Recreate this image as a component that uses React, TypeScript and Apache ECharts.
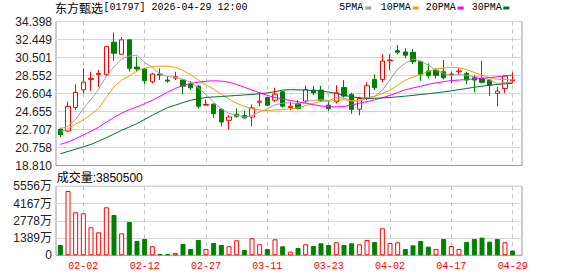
import React, { useEffect, useRef } from "react";
import * as echarts from "echarts";

// ---------- data ----------
const stockName = "东方甄选";
const stockCode = "01797";
const stampText = "2026-04-29 12:00";

const dates = [
  "01-28", "01-29", "01-30", "02-02", "02-03", "02-04", "02-05", "02-06", "02-09", "02-10",
  "02-11", "02-12", "02-13", "02-16", "02-20", "02-23", "02-24", "02-25", "02-26", "02-27",
  "03-02", "03-03", "03-04", "03-05", "03-06", "03-09", "03-10", "03-11", "03-12", "03-13",
  "03-16", "03-17", "03-18", "03-19", "03-20", "03-23", "03-24", "03-25", "03-26", "03-27",
  "03-30", "03-31", "04-01", "04-02", "04-08", "04-09", "04-10", "04-13", "04-14", "04-15",
  "04-16", "04-17", "04-20", "04-21", "04-22", "04-23", "04-24", "04-27", "04-28", "04-29",
];

const opens = [
  22.73, 22.54, 25.09, 27.0, 28.13, 28.67, 28.67, 32.16, 30.85, 32.41,
  29.47, 29.25, 27.87, 28.71, 28.06, 28.27, 28.06, 27.62, 27.4, 25.34,
  25.45, 24.9, 23.7, 24.36, 24.22, 24.06, 25.66, 26.17, 25.88, 26.78,
  25.09, 25.52, 25.77, 26.97, 26.97, 25.34, 25.7, 27.26, 26.5, 24.9,
  26.07, 28.13, 28.13, 30.16, 31.24, 31.1, 31.07, 30.05, 29.04, 29.14,
  28.96, 28.63, 28.96, 28.78, 28.31, 28.24, 28.06, 26.61, 27.15, 27.98,
];
const closes = [
  22.15, 25.2, 26.72, 27.84, 28.24, 28.78, 31.68, 30.96, 32.41, 29.33,
  29.25, 27.98, 28.71, 28.6, 27.95, 28.42, 27.4, 27.22, 25.23, 25.41,
  24.43, 23.52, 24.06, 24.14, 23.96, 25.04, 25.77, 25.34, 26.53, 25.23,
  25.23, 24.98, 27.05, 26.67, 25.88, 24.98, 26.67, 26.32, 24.87, 26.07,
  27.44, 27.22, 30.12, 30.23, 31.07, 30.74, 30.05, 28.67, 28.53, 28.57,
  28.31, 28.71, 29.04, 28.06, 28.06, 27.81, 27.51, 26.86, 28.49, 28.06,
];
const lows = [
  21.89, 22.43, 24.79, 26.61, 26.9, 27.33, 28.49, 30.16, 30.78, 28.96,
  28.96, 27.59, 27.7, 28.06, 27.76, 28.06, 26.53, 26.97, 24.98, 25.34,
  23.95, 23.05, 22.7, 24.0, 23.89, 23.05, 25.23, 25.26, 25.7, 25.09,
  24.79, 24.87, 25.59, 26.42, 25.7, 24.72, 25.52, 26.17, 24.43, 24.25,
  25.88, 26.97, 27.81, 29.14, 30.85, 30.42, 29.8, 27.98, 28.24, 28.24,
  28.13, 27.7, 28.6, 27.62, 26.72, 27.7, 26.32, 25.23, 26.67, 27.7,
];
const highs = [
  22.91, 25.7, 27.59, 29.33, 28.96, 29.14, 31.75, 33.2, 32.7, 32.48,
  30.59, 29.39, 28.85, 29.33, 28.42, 28.96, 28.13, 27.95, 27.51, 25.96,
  25.52, 24.98, 24.25, 24.98, 24.72, 25.41, 26.72, 26.24, 27.22, 26.89,
  25.7, 25.88, 27.44, 27.4, 27.44, 25.88, 27.51, 28.06, 26.67, 26.24,
  27.81, 28.68, 30.85, 30.85, 31.86, 31.5, 31.43, 30.16, 29.87, 29.33,
  30.23, 28.96, 29.33, 28.96, 28.6, 30.16, 28.13, 27.33, 28.6, 28.89,
];

const ma5 = [
  22.8, 23.05, 23.81, 24.98, 25.95, 27.1, 28.45, 29.5, 30.35, 30.65,
  30.75, 29.95, 29.45, 28.7, 28.45, 28.35, 28.15, 27.8, 27.2, 26.5,
  25.65, 24.95, 24.45, 24.25, 24.05, 24.2, 24.63, 24.95, 25.38, 25.55,
  25.6, 25.45, 25.8, 25.83, 25.93, 25.85, 26.15, 26.1, 25.8, 25.8,
  26.15, 26.3, 26.95, 28.1, 29.25, 29.88, 30.35, 30.1, 29.65, 29.15,
  28.77, 28.58, 28.65, 28.57, 28.43, 28.34, 28.08, 27.68, 27.8, 27.8,
];
const ma10 = [
  22.45, 22.8, 23.3, 23.75, 24.35, 25.0, 26.2, 27.35, 28.05, 28.5,
  29.05, 29.35, 29.52, 29.57, 29.55, 29.45, 29.1, 28.65, 28.05, 27.55,
  27.05, 26.55, 26.0, 25.55, 25.2, 24.95, 24.82, 24.72, 24.82, 24.85,
  24.95, 25.05, 25.3, 25.55, 25.75, 25.77, 25.85, 25.93, 25.8, 25.87,
  26.08, 26.3, 26.6, 26.98, 27.5, 28.05, 28.4, 28.65, 29.0, 29.25,
  29.35, 29.45, 29.38, 29.18, 28.88, 28.58, 28.33, 28.15, 28.12, 28.08,
];
const ma20 = [
  21.1, 21.34, 21.71, 22.12, 22.52, 22.95, 23.5, 24.02, 24.48, 24.85,
  25.15, 25.5, 25.88, 26.3, 26.75, 27.15, 27.48, 27.7, 27.82, 27.93,
  27.98, 27.95, 27.82, 27.58, 27.28, 26.98, 26.68, 26.4, 26.18, 26.0,
  25.85, 25.7, 25.55, 25.4, 25.25, 25.18, 25.15, 25.2, 25.35, 25.55,
  25.72, 25.92, 26.15, 26.4, 26.72, 27.0, 27.2, 27.38, 27.6, 27.75,
  27.88, 28.0, 28.06, 28.12, 28.18, 28.24, 28.32, 28.42, 28.52, 28.6,
];
const ma30 = [
  20.08, 20.33, 20.58, 20.83, 21.09, 21.45, 21.82, 22.22, 22.62, 22.98,
  23.35, 23.8, 24.25, 24.67, 25.09, 25.34, 25.62, 25.88, 26.03, 26.17,
  26.23, 26.28, 26.34, 26.39, 26.45, 26.5, 26.58, 26.67, 26.8, 26.97,
  27.02, 27.0, 26.97, 26.93, 26.89, 26.75, 26.61, 26.42, 26.24, 26.15,
  26.07, 26.08, 26.13, 26.18, 26.24, 26.32, 26.4, 26.5, 26.58, 26.67,
  26.78, 26.89, 27.02, 27.15, 27.28, 27.4, 27.5, 27.59, 27.65, 27.7,
];

const volumes = [
  8320000, 51800000, 34620000, 33820000, 22550000, 18520000, 38650000, 32480000, 17710000, 26840000,
  11540000, 13150000, 7250000, 1070000, 1070000, 1880000, 9130000, 5100000, 12350000, 5100000,
  9930000, 8320000, 7250000, 12080000, 4290000, 13690000, 8860000, 5100000, 12880000, 7250000,
  2950000, 5900000, 8860000, 7520000, 9660000, 8320000, 10470000, 8320000, 9660000, 8860000,
  12350000, 10740000, 21740000, 9930000, 10470000, 5100000, 8050000, 11540000, 6980000, 5100000,
  13150000, 7520000, 5100000, 10740000, 13150000, 14230000, 11000000, 13150000, 10470000, 3850500,
];
// 1 = red (hollow) volume bar, 0 = green (filled) volume bar
const volumeUp = [
  0, 1, 1, 1, 1, 1, 1, 0, 1, 0,
  0, 0, 1, 0, 0, 1, 0, 0, 0, 1,
  0, 0, 1, 1, 0, 1, 1, 0, 1, 0,
  1, 0, 1, 0, 0, 0, 1, 0, 0, 1,
  1, 0, 1, 1, 1, 0, 0, 0, 0, 1,
  0, 1, 1, 0, 0, 0, 0, 0, 1, 0,
];

const priceTicks = ["18.810", "20.758", "22.707", "24.655", "26.604", "28.552", "30.501", "32.449", "34.398"];
const volumeTicks = ["0", "1389万", "2778万", "4167万", "5556万"];
const markedDates = ["02-02", "02-12", "02-27", "03-11", "03-23", "04-02", "04-17", "04-29"];
const maNames = ["5PMA", "10PMA", "20PMA", "30PMA"];

const PRICE_MIN = 18.81;
const PRICE_MAX = 34.398;
const PRICE_STEP = 1.9485;
const VOL_MAX = 55560000;
const VOL_STEP = 13890000;

// ---------- styles ----------
const MONO = "'Liberation Mono', monospace";
const SANS = "'Liberation Sans', 'Noto Sans CJK SC', sans-serif";
const CJK = "'Noto Sans CJK SC', sans-serif";
const RED = "#ff0000";
const GREEN = "#008000";
const MA_COLORS = ["#a0a0a0", "#f5a100", "#ff00ff", "#006f35"];
const GRID_LINE = "#d6d6d6";
const FRAME = "#999999";
const DASH = "#c4c4c4";

// layout of the data area (category bands)
const DATA_LEFT = 56.5;
const DATA_WIDTH = 460;

export default function App() {
  const ref = useRef<HTMLDivElement>(null);

  useEffect(() => {
    if (!ref.current) return;
    const chart = echarts.init(ref.current, undefined, { renderer: "svg" });

    const mas = [ma5, ma10, ma20, ma30];
    const legendTextX = [339.3, 380.7, 425.7, 471.7];
    const legendMarkX = [365.3, 412.7, 457.7, 503.3];

    // Dashed vertical guide lines: an index-valued axis whose ticks fall on the marked dates.
    const firstMark = dates.indexOf(markedDates[0]);
    const secondMark = dates.indexOf(markedDates[1]);
    const markStep = secondMark - firstMark;
    const lastMark = dates.indexOf(markedDates[markedDates.length - 1]);
    const guideMin = firstMark - markStep;
    const slot = DATA_WIDTH / dates.length;
    const guideLeft = DATA_LEFT + slot * (guideMin + 0.5);
    const guideWidth = slot * (lastMark - guideMin);

    const graphics: any[] = [
      {
        type: "text",
        x: 309,
        y: 96,
        silent: true,
        z: 1,
        style: {
          text: "东方财富",
          fontFamily: CJK,
          fontSize: 36,
          fontWeight: "bold",
          fontStyle: "italic",
          fill: "rgba(0,0,0,0.055)",
          textAlign: "center",
          textVerticalAlign: "middle",
          align: "center",
          verticalAlign: "middle",
        },
      },
      {
        type: "text",
        x: 55,
        y: 7,
        style: { text: stockName, fontFamily: CJK, fontSize: 12, fill: "#000", textVerticalAlign: "middle", verticalAlign: "middle" },
      },
      {
        type: "text",
        x: 103.5,
        y: 7,
        style: {
          text: "[" + stockCode + "] " + stampText,
          fontFamily: MONO,
          fontSize: 10,
          fill: "#000",
          textVerticalAlign: "middle",
          verticalAlign: "middle",
        },
      },
      {
        type: "text",
        x: 56.7,
        y: 178,
        style: {
          text: "成交量:" + volumes[volumes.length - 1],
          fontFamily: SANS,
          fontSize: 12,
          fill: "#000",
          textVerticalAlign: "middle",
          verticalAlign: "middle",
        },
      },
    ];
    maNames.forEach((name, i) => {
      graphics.push({
        type: "text",
        x: legendTextX[i],
        y: 7,
        style: { text: name, fontFamily: MONO, fontSize: 10, fill: "#000", textVerticalAlign: "middle", verticalAlign: "middle" },
      });
      graphics.push({
        type: "rect",
        shape: { x: legendMarkX[i], y: 6.5, width: 6, height: 3 },
        style: { fill: MA_COLORS[i] },
      });
    });

    const guideAxis = (gridIndex: number) => ({
      type: "value",
      gridIndex,
      min: guideMin,
      max: lastMark,
      interval: markStep,
      axisLine: { show: false },
      axisTick: { show: false },
      axisLabel: { show: false },
      splitLine: { show: true, showMinLine: false, lineStyle: { color: DASH, type: [4, 4], width: 1 } },
    });

    chart.setOption({
      animation: false,
      backgroundColor: "#fff",
      grid: [
        { left: 56, top: 21.5, width: 466, height: 144, show: true, borderColor: FRAME, borderWidth: 1, backgroundColor: "transparent" },
        { left: DATA_LEFT, top: 21.5, width: DATA_WIDTH, height: 144 },
        { left: 56, top: 186.3, width: 466, height: 69, show: true, borderColor: FRAME, borderWidth: 1, backgroundColor: "transparent" },
        { left: DATA_LEFT, top: 186.3, width: DATA_WIDTH, height: 69 },
        { left: guideLeft, top: 21.5, width: guideWidth, height: 144 },
        { left: guideLeft, top: 186.3, width: guideWidth, height: 69 },
      ],
      xAxis: [
        { type: "value", gridIndex: 0, show: false, min: 0, max: 1 },
        {
          type: "category",
          gridIndex: 1,
          data: dates,
          axisLine: { show: false },
          axisTick: { show: false },
          axisLabel: { show: false },
          splitLine: { show: false },
        },
        { type: "value", gridIndex: 2, show: false, min: 0, max: 1 },
        {
          type: "category",
          gridIndex: 3,
          data: dates,
          axisLine: { show: false },
          axisTick: { show: false },
          splitLine: { show: false },
          axisLabel: {
            interval: (_i: number, v: string) => markedDates.includes(v),
            color: RED,
            fontFamily: MONO,
            fontSize: 10,
            margin: 6,
          },
        },
        guideAxis(4),
        guideAxis(5),
      ],
      yAxis: [
        {
          type: "value",
          gridIndex: 0,
          min: PRICE_MIN,
          max: PRICE_MAX,
          interval: PRICE_STEP,
          axisLine: { show: false },
          axisTick: { show: false },
          splitLine: { show: true, showMinLine: false, lineStyle: { color: GRID_LINE, width: 1 } },
          axisLabel: {
            formatter: (v: number) => priceTicks[Math.round((v - PRICE_MIN) / PRICE_STEP)] ?? "",
            fontFamily: SANS,
            fontSize: 12,
            color: "#222",
            margin: 4,
          },
        },
        { type: "value", gridIndex: 1, min: PRICE_MIN, max: PRICE_MAX, show: false, splitLine: { show: false } },
        {
          type: "value",
          gridIndex: 2,
          min: 0,
          max: VOL_MAX,
          interval: VOL_STEP,
          axisLine: { show: false },
          axisTick: { show: false },
          splitLine: { show: true, showMinLine: false, lineStyle: { color: GRID_LINE, width: 1 } },
          axisLabel: {
            formatter: (v: number) => volumeTicks[Math.round(v / VOL_STEP)] ?? "",
            fontFamily: SANS,
            fontSize: 12,
            color: "#222",
            margin: 4,
          },
        },
        { type: "value", gridIndex: 3, min: 0, max: VOL_MAX, show: false, splitLine: { show: false } },
        { type: "value", gridIndex: 4, show: false, min: 0, max: 1 },
        { type: "value", gridIndex: 5, show: false, min: 0, max: 1 },
      ],
      series: [
        {
          type: "candlestick",
          xAxisIndex: 1,
          yAxisIndex: 1,
          barWidth: 5,
          z: 2,
          data: dates.map((_, i) => [opens[i], closes[i], lows[i], highs[i]]),
          itemStyle: {
            color: "#ffffff",
            color0: GREEN,
            borderColor: RED,
            borderColor0: GREEN,
            borderWidth: 1,
          },
        },
        ...mas.map((m, i) => ({
          type: "line",
          name: maNames[i],
          xAxisIndex: 1,
          yAxisIndex: 1,
          data: m,
          symbol: "none",
          z: 3,
          lineStyle: { color: MA_COLORS[i], width: 1 },
        })),
        {
          type: "bar",
          xAxisIndex: 3,
          yAxisIndex: 3,
          barWidth: 5,
          z: 2,
          data: volumes.map((v, i) => ({
            value: v,
            itemStyle: {
              color: volumeUp[i] ? "#ffffff" : GREEN,
              borderColor: volumeUp[i] ? RED : GREEN,
              borderWidth: 1,
            },
          })),
        },
      ],
      graphic: graphics,
    });

    return () => chart.dispose();
  }, []);

  return (
    <div
      ref={ref}
      style={{ position: "fixed", left: 0, top: 0, width: 578, height: 276, background: "#fff" }}
    />
  );
}
